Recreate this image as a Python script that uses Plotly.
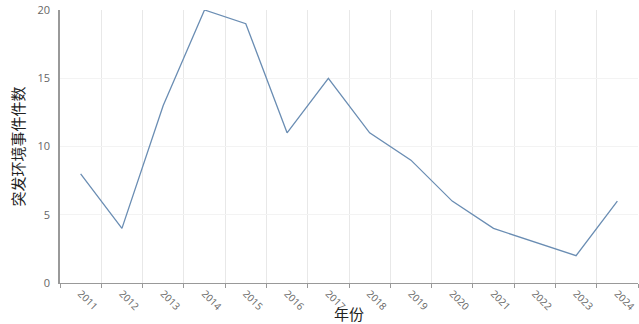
import plotly.graph_objects as go

years = ["2011", "2012", "2013", "2014", "2015", "2016", "2017",
         "2018", "2019", "2020", "2021", "2022", "2023", "2024"]
counts = [8, 4, 13, 20, 19, 11, 15, 11, 9, 6, 4, 3, 2, 6]
y_ticks = [0, 5, 10, 15, 20]

fig = go.Figure()
fig.add_trace(go.Scatter(
    x=years, y=counts, mode="lines",
    line=dict(color="#6a8db3", width=1.3),
    hoverinfo="x+y",
))

fig.update_layout(
    width=639, height=324,
    margin=dict(l=60, r=1, t=10, b=41),
    paper_bgcolor="white", plot_bgcolor="white",
    showlegend=False,
    font=dict(family="Open Sans, Noto Sans CJK SC, sans-serif"),
)
fig.update_xaxes(
    type="category", range=[-0.5, 13.5],
    tickson="boundaries", ticks="outside", ticklen=4, tickcolor="#999",
    showline=True, linecolor="#999", linewidth=1,
    showgrid=True, gridcolor="#e8e8e8", gridwidth=1,
    tickangle=45, tickfont=dict(size=10, color="#666"),
    title=dict(text="年份", font=dict(size=15, color="#222",
               family="Noto Sans CJK SC"), standoff=0),
)
fig.update_yaxes(
    range=[0, 20], tickvals=y_ticks,
    showline=True, linecolor="#999", linewidth=1.5,
    showgrid=True, gridcolor="#f3f3f3", gridwidth=1,
    zeroline=False, ticks="", ticklabelstandoff=6,
    tickfont=dict(size=11, color="#666"),
    title=dict(text="突发环境事件件数", font=dict(size=15, color="#222",
               family="Noto Sans CJK SC"), standoff=9),
)

fig.write_html("out.html")
